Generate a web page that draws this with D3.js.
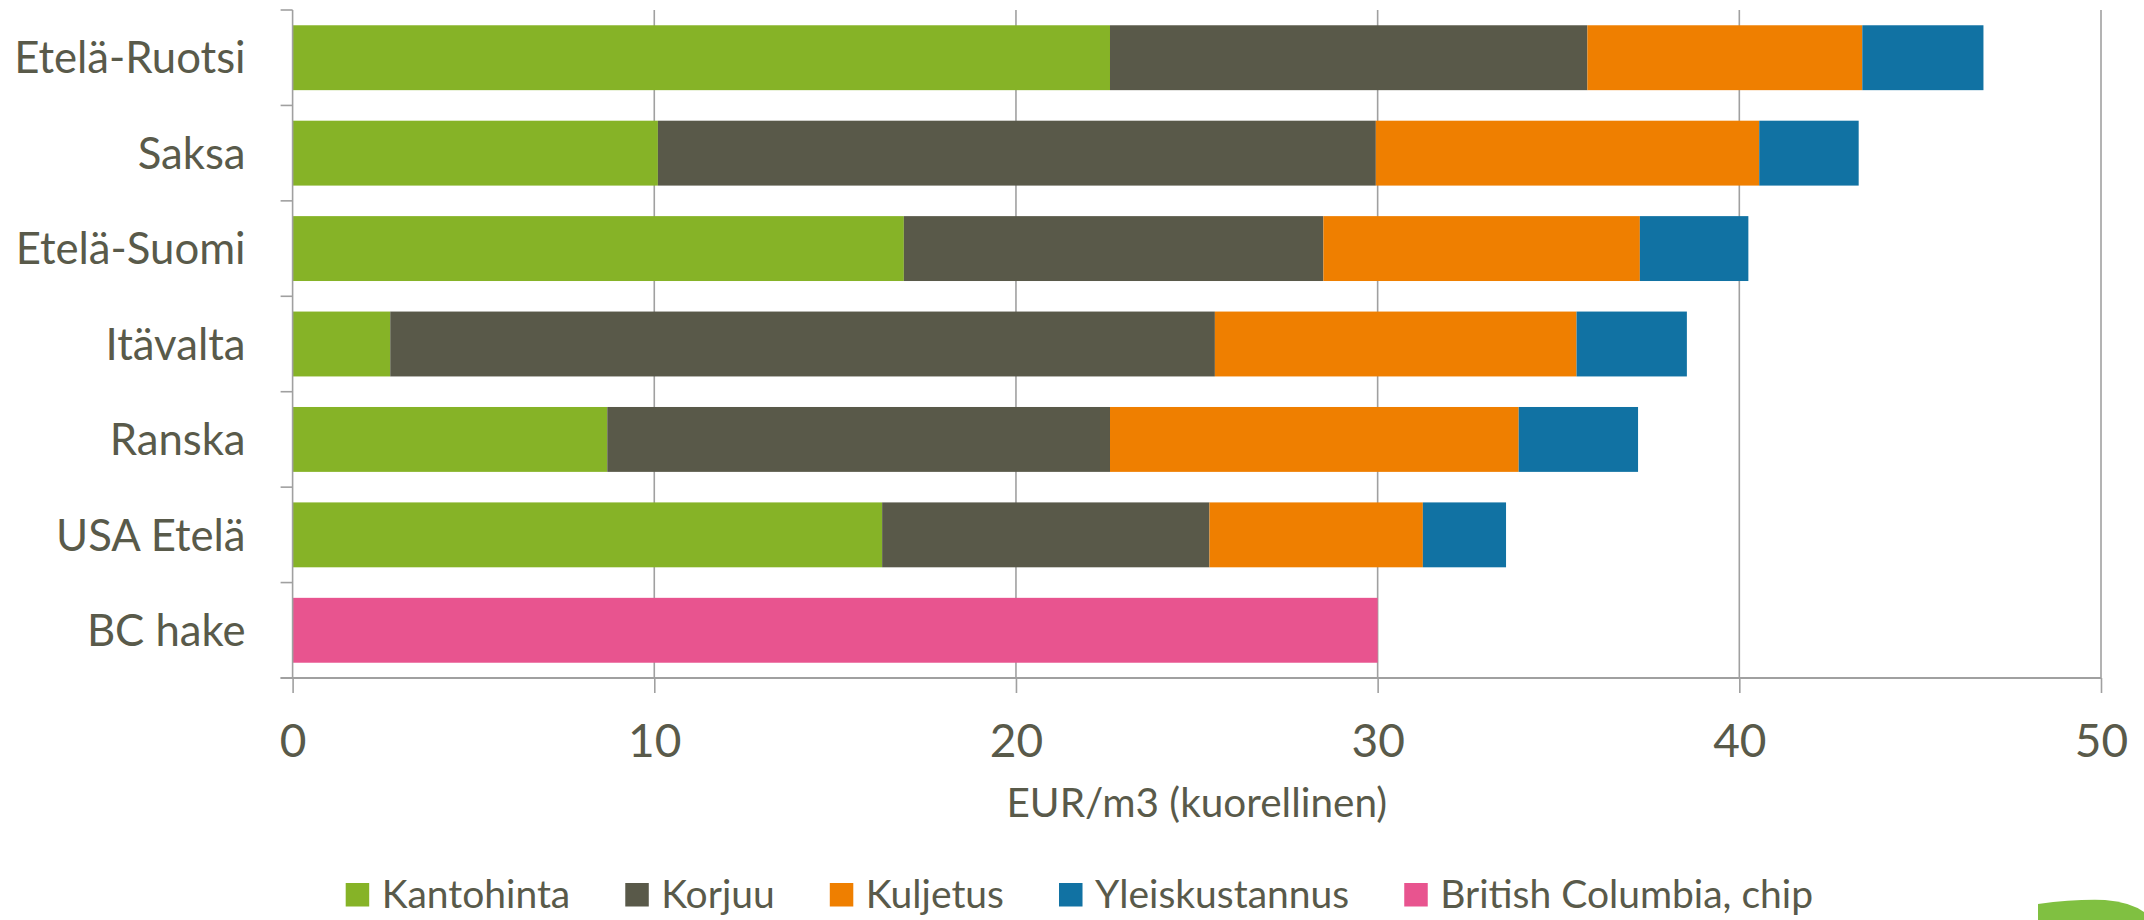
<!DOCTYPE html>
<html><head><meta charset="utf-8">
<script src="https://cdn.jsdelivr.net/npm/d3@7/dist/d3.min.js"></script>
<style>
html,body{margin:0;padding:0;background:#fff;}
svg{display:block;}
text{font-family:Lato, "Open Sans", sans-serif; fill:#595a4a;}
</style></head>
<body>
<svg id="chart" width="2144" height="920"></svg>
<script>
const categories = ["Etelä-Ruotsi","Saksa","Etelä-Suomi","Itävalta","Ranska","USA Etelä","BC hake"];
const seriesNames = ["Kantohinta","Korjuu","Kuljetus","Yleiskustannus","British Columbia, chip"];
const kantohinta = [22.6, 10.1, 16.9, 2.7, 8.7, 16.3, 0];
const korjuu = [13.2, 19.85, 11.6, 22.8, 13.9, 9.05, 0];
const kuljetus = [7.6, 10.6, 8.75, 10.0, 11.3, 5.9, 0];
const yleiskustannus = [3.35, 2.75, 3.0, 3.05, 3.3, 2.3, 0];
const britishColumbia = [0, 0, 0, 0, 0, 0, 30];
const xTicks = [0, 10, 20, 30, 40, 50];
const xTitle = "EUR/m3 (kuorellinen)";
const colors = ["#86b327","#595949","#ef7f00","#1172a3","#e8548f"];

(function () {
const seriesValues = [kantohinta, korjuu, kuljetus, yleiskustannus, britishColumbia];
const table = categories.map((c, i) => {
  const row = {category: c};
  seriesNames.forEach((s, j) => row[s] = seriesValues[j][i]);
  return row;
});

const svg = d3.select("#chart");
const mLeft = 292.6, mRight = 2101, mTop = 10, mBottom = 678;

const x = d3.scaleLinear().domain([0, 50]).range([mLeft, mRight]);
const y = d3.scaleBand().domain(categories).range([mTop, mBottom]).paddingInner(0.32).paddingOuter(0.16);

// gridlines
svg.append("g").selectAll("line").data(xTicks.filter(d => d > 0)).join("line")
  .attr("x1", d => x(d)).attr("x2", d => x(d))
  .attr("y1", mTop).attr("y2", mBottom)
  .attr("stroke", "#a0a0a0").attr("stroke-width", 1.6);

// bars
const stacked = d3.stack().keys(seriesNames)(table);
svg.append("g").selectAll("g").data(stacked).join("g")
  .attr("fill", (d, i) => colors[i])
  .selectAll("rect").data(d => d.filter(p => p[1] - p[0] > 0)).join("rect")
  .attr("x", d => x(d[0]))
  .attr("width", d => x(d[1]) - x(d[0]))
  .attr("y", d => y(d.data.category))
  .attr("height", y.bandwidth());

// x axis
const xAxis = svg.append("g").attr("transform", `translate(0,${mBottom})`)
  .call(d3.axisBottom(x).tickValues(xTicks).tickSize(15).tickPadding(31).tickFormat(d3.format("d")));
xAxis.select(".domain").remove();
xAxis.selectAll(".tick line").attr("stroke", "#a0a0a0").attr("stroke-width", 1.6);
xAxis.selectAll(".tick text").attr("font-size", 46).attr("font-family", "Lato").attr("fill", "#595a4a");
svg.append("line").attr("x1", mLeft - 12).attr("x2", mRight).attr("y1", mBottom).attr("y2", mBottom)
  .attr("stroke", "#a0a0a0").attr("stroke-width", 2.2);

// y axis
const boundaries = d3.range(categories.length + 1).map(i => mTop + i * y.step());
svg.append("g").selectAll("line").data(boundaries).join("line")
  .attr("x1", mLeft - 12).attr("x2", mLeft)
  .attr("y1", d => d).attr("y2", d => d)
  .attr("stroke", "#a0a0a0").attr("stroke-width", 1.6);
svg.append("line").attr("x1", mLeft).attr("x2", mLeft).attr("y1", mTop).attr("y2", mBottom)
  .attr("stroke", "#a0a0a0").attr("stroke-width", 1.6);
svg.append("g").selectAll("text").data(categories).join("text")
  .attr("x", mLeft - 47)
  .attr("y", d => y(d) + y.bandwidth() / 2)
  .attr("dy", "0.36em")
  .attr("text-anchor", "end")
  .attr("font-size", 43.7)
  .text(d => d);

// axis title
svg.append("text").attr("x", (mLeft + mRight) / 2).attr("y", 817)
  .attr("text-anchor", "middle").attr("font-size", 40.5).text(xTitle);

// legend
const lg = svg.append("g");
let lx = 345.7;
seriesNames.forEach((s, i) => {
  lg.append("rect").attr("x", lx).attr("y", 883).attr("width", 23.5).attr("height", 23.5).attr("fill", colors[i]);
  const t = lg.append("text").attr("x", lx + 36).attr("y", 907.5).attr("font-size", 39).text(s);
  lx += 36 + t.node().getComputedTextLength() + 55;
});

// decorative corner shape
svg.append("path")
  .attr("d", "M2038,920 L2038,904 Q2075,899 2105,900 Q2130,902 2144,912 L2144,920 Z")
  .attr("fill", "#80c041");
})();
</script>
</body></html>
